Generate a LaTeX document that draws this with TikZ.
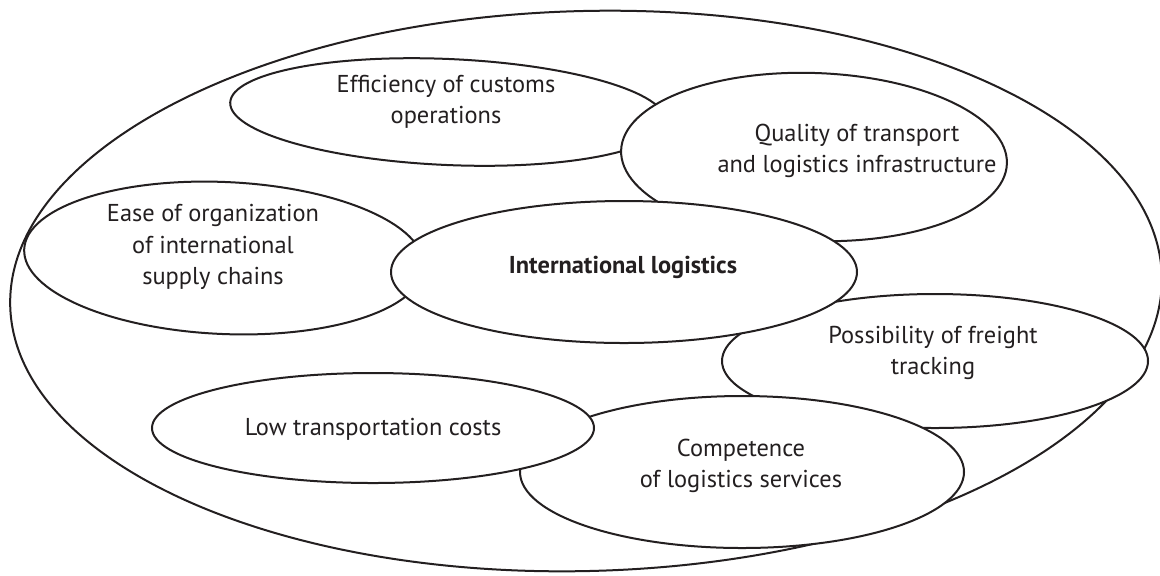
\documentclass[tikz,border=0pt]{standalone}
\usepackage{fontspec}
\setmainfont{PT Sans}
\definecolor{ink}{HTML}{231F20}
\begin{document}
\begin{tikzpicture}[x=0.5pt,y=-0.5pt,
  lbl/.style={text=ink, font=\fontsize{12.2}{15.6}\selectfont, align=center, inner sep=0pt},
  oval/.style={draw=ink, line width=1pt, fill=white}]
\useasboundingbox (0,0) rectangle (1160,575);
% outer
\draw[oval, rotate around={1.5:(586,291)}] (586,291) ellipse [x radius=576, y radius=280];
% inner ovals (drawing order gives overlaps)
\draw[oval, rotate around={-2.5:(448,112)}] (448,112) ellipse [x radius=218, y radius=53];
\draw[oval, rotate around={-2:(814,157)}] (814,157) ellipse [x radius=193, y radius=84];
\draw[oval, rotate around={-2.5:(224,258)}] (224,258) ellipse [x radius=200, y radius=76];
\draw[oval] (935,361) ellipse [x radius=213, y radius=67];
\draw[oval] (742,472) ellipse [x radius=222, y radius=76];
\draw[oval] (373,428) ellipse [x radius=221, y radius=55];
\draw[oval] (624,272) ellipse [x radius=233, y radius=71];
% labels
\node[lbl] (eff) at (446,102) {Efficiency of customs\\operations};
\node[lbl] (qual) at (857,151) {Quality of transport\\and logistics infrastructure};
\node[lbl] (ease) at (213,247) {Ease of organization\\of international\\supply chains};
\node[lbl, font=\fontsize{12.2}{15.6}\selectfont\bfseries] (intl) at (623,267) {International logistics};
\node[lbl] (poss) at (933,353) {Possibility of freight\\tracking};
\node[lbl] (low) at (373,429) {Low transportation costs};
\node[lbl] (comp) at (741,466) {Competence\\of logistics services};
\end{tikzpicture}
\end{document}
